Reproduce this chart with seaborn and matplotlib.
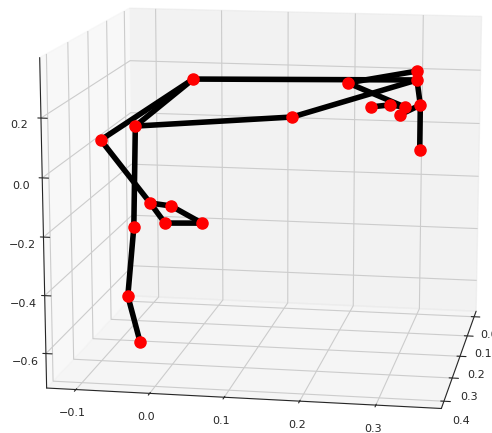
import numpy as np
import matplotlib
matplotlib.use("Agg")
import matplotlib.pyplot as plt
import seaborn as sns

sns.set_style("white")
plt.rcParams['font.family'] = ['DejaVu Sans']

# joint coordinates
joint_x = [0.009, -0.124, -0.074, 0.148, 0.225, 0.32, 0.32, 0.325, 0.325, 0.257, 0.283, 0.304, 0.297,
           -0.054, -0.024, -0.033, 0.02, -0.078, -0.088, -0.071]
joint_y = [0.2] * 20
joint_z = [0.24, 0.012, 0.066, 0.116, 0.242, 0.29, 0.259, 0.172, 0.014, 0.16, 0.169, 0.163, 0.135,
           -0.21, -0.218, -0.281, -0.276, -0.3, -0.555, -0.724]
# bones (pairs of joint indices)
bones = [(0, 6), (0, 1), (0, 2), (2, 3), (3, 6), (4, 5), (4, 11), (5, 6), (6, 7), (7, 8),
         (9, 10), (10, 11), (11, 12), (12, 7), (1, 13), (13, 14), (14, 16), (13, 15), (15, 16),
         (2, 17), (17, 18), (18, 19)]
x_ticks = [-0.1, 0.0, 0.1, 0.2, 0.3]
y_ticks = [0.0, 0.1, 0.2, 0.3, 0.4]
z_ticks = [-0.6, -0.4, -0.2, 0.0, 0.2]

fig = plt.figure(figsize=(4.92, 4.33), dpi=100)
ax = fig.add_axes([0.045, 0.039, 1, 1], projection='3d', computed_zorder=False)
ax.view_init(elev=12, azim=-80)
ax.set_box_aspect((3.5, 3.3, 2.95), zoom=1.366)
for a, b in bones:
    ax.plot([joint_x[a], joint_x[b]], [joint_y[a], joint_y[b]], [joint_z[a], joint_z[b]],
            color='black', lw=4, solid_capstyle='round', zorder=2)
ax.plot(joint_x, joint_y, joint_z, 'o', color='red', ms=8, zorder=3)
ax.set_xlim(-0.14, 0.385)
ax.set_ylim(0.43, -0.03)
ax.set_zlim(-0.72, 0.4)
ax.set_xticks(x_ticks)
ax.set_yticks(y_ticks)
ax.set_zticks(z_ticks)
ax.zaxis.set_ticks_position('upper')
ax.zaxis.set_label_position('upper')
ax.tick_params(labelsize=8, pad=-1)
fig.savefig("out.png", dpi=100)
